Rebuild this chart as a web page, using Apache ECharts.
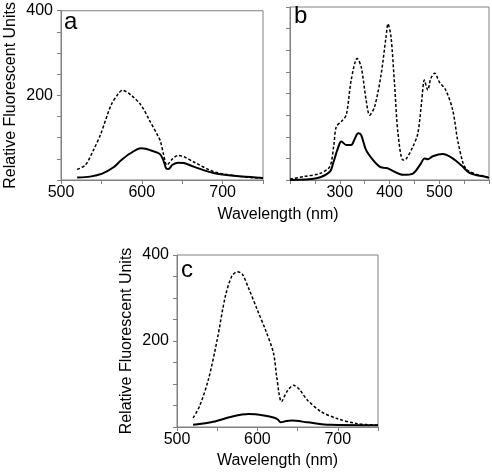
<!DOCTYPE html>
<html><head><meta charset="utf-8">
<script src="https://cdn.jsdelivr.net/npm/echarts@6/dist/echarts.min.js"></script>
<style>html,body{margin:0;padding:0;background:#fff}#c{width:492px;height:472px}</style>
</head><body><div id="c"></div>
<script>
// Panel a (x: wavelength nm, y: RFU)
var aDashedX = [520,530,540,549,562,571,576,587,599,609,620,623,627,631,638,645,652,665,690,724,750];
var aDashedY = [25,35,70,108,177,204,212,200,177,143,104,92,60,35,50,58,55,42,19,8,4];
var aSolidX = [520,536,551,565,574,585,599,605,611,622,626,630,633,638,645,652,665,690,724,750];
var aSolidY = [6,8,15,30,46,62,75,74,70,62,50,28,26,36,41,40,31,16,8,5];
// Panel b
var bDashedX = [200,227,260,280,288,293,303,313,323,335,343,353,360,370,383,393,397,403,410,417,427,433,447,457,465,470,477,483,491,500,513,527,537,547,553,560,575,590,600];
var bDashedY = [2,8,15,31,80,123,135,150,231,281,262,185,150,169,243,331,361,331,224,108,46,48,77,108,185,231,208,235,247,227,208,162,92,42,27,20,13,9,6];
var bSolidX = [200,253,280,287,293,300,303,313,323,330,337,343,353,367,380,390,397,410,427,447,463,470,477,487,507,527,547,560,575,590,600];
var bSolidY = [0,4,19,40,62,85,89,81,81,95,108,104,69,46,31,28,27,19,12,15,38,50,48,55,60,50,31,17,11,8,5];
// Panel c
var cDashedX = [520,528,539,550,560,568,575,581,589,600,610,620,624,630,637,645,652,662,679,700,724,750];
var cDashedY = [21,48,110,203,303,350,361,356,323,272,226,172,117,59,83,97,88,63,36,19,8,4];
var cSolidX = [520,545,570,589,608,620,625,629,636,643,662,691,750];
var cSolidY = [5,12,25,30,27,22,18,11,14,15,11,5,4];
// Tick labels
var xLabelsA = [500,600,700];
var xLabelsB = [300,400,500];
var xLabelsC = [500,600,700];
var yLabels = [200,400];

function pairs(xs, ys){ return xs.map(function(x,i){ return [x, ys[i]]; }); }
var FONT = "'Liberation Sans', Arial, sans-serif";
var AX = '#808080';
function xAxis(idx, min, max, labels){
  return {type:'value', gridIndex:idx, min:min, max:max, interval:50,
    axisLine:{show:true,lineStyle:{color:AX,width:1}},
    axisTick:{show:true,length:4,lineStyle:{color:AX}},
    splitLine:{show:false},
    axisLabel:{margin:5,color:'#000',fontSize:16,fontFamily:FONT,showMinLabel:true,showMaxLabel:true,
      formatter:function(v){ return labels.indexOf(v)>=0 ? String(v) : ''; }}};
}
function yAxis(idx, showLabels){
  return {type:'value', gridIndex:idx, min:0, max:400, interval:50,
    axisLine:{show:true,lineStyle:{color:AX,width:1}},
    axisTick:{show:true,length:4,lineStyle:{color:AX}},
    splitLine:{show:false},
    name: showLabels ? 'Relative Fluorescent Units' : '',
    nameLocation:'middle', nameGap:42, nameRotate:90,
    nameTextStyle:{color:'#000',fontSize:16,fontFamily:FONT},
    axisLabel:{show:showLabels,margin:8,color:'#000',fontSize:16,fontFamily:FONT,showMinLabel:true,showMaxLabel:true,
      formatter:function(v){ return yLabels.indexOf(v)>=0 ? String(v) : ''; }}};
}
function line(idx, xs, ys, dashed){
  return {type:'line', xAxisIndex:idx, yAxisIndex:idx, data:pairs(xs,ys), smooth:0.3,
    showSymbol:false, animation:false,
    lineStyle: dashed ? {color:'#000',width:1.5,type:[3,2]} : {color:'#000',width:2}};
}
var chart = echarts.init(document.getElementById('c'), null, {renderer:'canvas'});
chart.setOption({
  backgroundColor:'#fff',
  animation:false,
  grid:[
    {left:61, top:7, width:202, height:173, show:true, borderColor:AX, borderWidth:1},
    {left:290, top:7, width:201, height:173, show:true, borderColor:AX, borderWidth:1},
    {left:177, top:255, width:201, height:172, show:true, borderColor:AX, borderWidth:1}
  ],
  xAxis:[xAxis(0,500,750,xLabelsA), xAxis(1,200,600,xLabelsB),
    Object.assign(xAxis(2,500,750,xLabelsC),{name:'Wavelength (nm)',nameLocation:'middle',nameGap:26,nameTextStyle:{color:'#000',fontSize:16,fontFamily:FONT}})],
  yAxis:[yAxis(0,true), yAxis(1,false), yAxis(2,true)],
  series:[line(0,aDashedX,aDashedY,true), line(0,aSolidX,aSolidY,false),
          line(1,bDashedX,bDashedY,true), line(1,bSolidX,bSolidY,false),
          line(2,cDashedX,cDashedY,true), line(2,cSolidX,cSolidY,false)],
  graphic:[
    {type:'text', left:64, top:10, style:{text:'a', fontSize:24, fontFamily:FONT, fill:'#000'}},
    {type:'text', left:294, top:4, style:{text:'b', fontSize:24, fontFamily:FONT, fill:'#000'}},
    {type:'text', left:181, top:258, style:{text:'c', fontSize:24, fontFamily:FONT, fill:'#000'}},
    {type:'text', x:278, y:207, style:{text:'Wavelength (nm)', fontSize:16, fontFamily:FONT, fill:'#000', align:'center', verticalAlign:'top'}}
  ]
});
</script></body></html>
